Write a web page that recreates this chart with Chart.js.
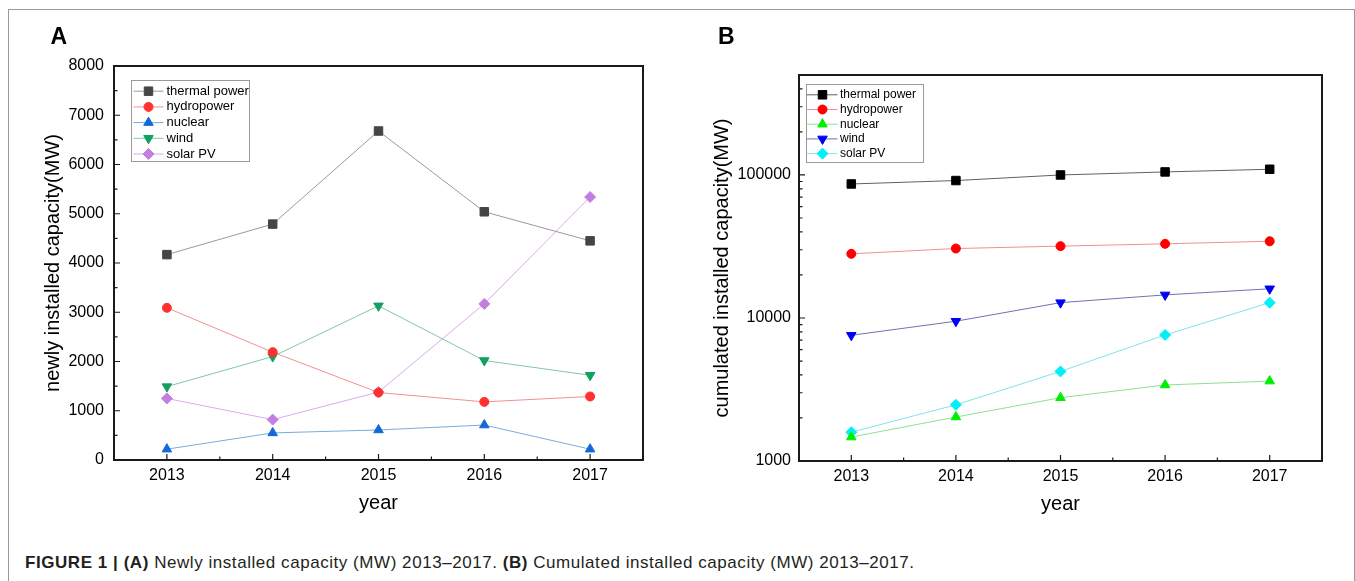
<!DOCTYPE html>
<html>
<head>
<meta charset="utf-8">
<script src="https://cdn.jsdelivr.net/npm/chart.js@4"></script>
<style>
  html, body { margin:0; padding:0; background:#fff; }
  body { width:1355px; height:581px; position:relative; overflow:hidden; font-family:'Liberation Sans', Arial, sans-serif; }
  #frame { position:absolute; left:8px; top:9px; width:1347px; height:700px; box-sizing:border-box; border:1px solid #9a9a9a; }
  #cA { position:absolute; left:0; top:0; }
  #cB { position:absolute; left:680px; top:0; }
  .panel { position:absolute; font-weight:bold; font-size:23px; line-height:30px; color:#000; }
  #caption { position:absolute; left:25px; top:552.5px; font-size:17px; line-height:20px; letter-spacing:0.55px; color:#231f20; white-space:nowrap; }
</style>
</head>
<body>
<div id="frame"></div>
<canvas id="cA" width="680" height="540"></canvas>
<canvas id="cB" width="675" height="540"></canvas>
<div class="panel" style="left:50.5px; top:21px;">A</div>
<div class="panel" style="left:718px; top:20.5px;">B</div>
<div id="caption"><b>FIGURE 1 | (A)</b> Newly installed capacity (MW) 2013–2017. <b>(B)</b> Cumulated installed capacity (MW) 2013–2017.</div>
<script>
// ---------- data ----------
const years = ['2013', '2014', '2015', '2016', '2017'];
const seriesNames = ['thermal power', 'hydropower', 'nuclear', 'wind', 'solar PV'];

// Panel A: newly installed capacity (MW)
const newThermal = [4170, 4790, 6680, 5040, 4450];
const newHydro   = [3090, 2190, 1370, 1180, 1290];
const newNuclear = [220, 550, 610, 710, 220];
const newWind    = [1490, 2100, 3130, 2020, 1720];
const newSolar   = [1250, 820, 1380, 3170, 5340];

// Panel B: cumulated installed capacity (MW)
const cumThermal = [86500, 91400, 100000, 105000, 109600];
const cumHydro   = [28100, 30600, 31800, 33000, 34400];
const cumNuclear = [1470, 2030, 2770, 3400, 3620];
const cumWind    = [7570, 9490, 12800, 14500, 16000];
const cumSolar   = [1590, 2470, 4230, 7610, 12800];

// Tick values
const ticksAMajor = [0, 1000, 2000, 3000, 4000, 5000, 6000, 7000, 8000];
const ticksAMinor = [500, 1500, 2500, 3500, 4500, 5500, 6500, 7500];
const ticksBMajor = [1000, 10000, 100000];
const ticksBMinor = [2000, 3000, 4000, 5000, 6000, 7000, 8000, 9000,
                     20000, 30000, 40000, 50000, 60000, 70000, 80000, 90000,
                     200000, 300000, 400000];

// ---------- helpers ----------
const FONT = "'Liberation Sans', Arial, sans-serif";
Chart.defaults.font.family = FONT;
Chart.defaults.color = '#000';

function mkDs(label, data, lineColor, markColor, style, radius, rot) {
  return {
    label, data,
    borderColor: lineColor, backgroundColor: markColor,
    pointBackgroundColor: markColor, pointBorderColor: markColor,
    pointBorderWidth: 1, pointStyle: style, pointRadius: radius,
    pointHoverRadius: radius, pointRotation: rot || 0,
    borderWidth: 1, tension: 0, fill: false
  };
}

const frameTicks = {
  id: 'frameTicks',
  beforeDatasetsDraw(chart, args, o) {
    const {ctx, chartArea: a} = chart;
    const x = chart.scales.x, y = chart.scales.y;
    ctx.save();
    ctx.strokeStyle = '#1a1a1a';
    ctx.lineWidth = 1.2;
    ctx.beginPath();
    const n = x.ticks.length;
    for (let i = 0; i < n; i++) {
      const px = x.getPixelForTick(i);
      ctx.moveTo(px, a.bottom); ctx.lineTo(px, a.bottom - o.major);
      if (i < n - 1) {
        const mx = (px + x.getPixelForTick(i + 1)) / 2;
        ctx.moveTo(mx, a.bottom); ctx.lineTo(mx, a.bottom - o.minor);
      }
    }
    o.yMajor.forEach(v => { const py = y.getPixelForValue(v); ctx.moveTo(a.left, py); ctx.lineTo(a.left + o.major, py); });
    o.yMinor.forEach(v => { const py = y.getPixelForValue(v); ctx.moveTo(a.left, py); ctx.lineTo(a.left + o.minor, py); });
    ctx.stroke();
    ctx.restore();
  },
  afterDatasetsDraw(chart) {
    const {ctx, chartArea: a} = chart;
    ctx.save();
    ctx.strokeStyle = '#1a1a1a';
    ctx.lineWidth = 2;
    ctx.strokeRect(a.left, a.top, a.right - a.left, a.bottom - a.top);
    ctx.restore();
  }
};

const boxLegend = {
  id: 'boxLegend',
  afterDatasetsDraw(chart, args, o) {
    const {ctx, chartArea: a} = chart;
    const bx = Math.round(a.left + o.dx) + 0.5, by = Math.round(a.top + o.dy) + 0.5;
    ctx.save();
    ctx.fillStyle = '#fff';
    ctx.fillRect(bx, by, o.w, o.h);
    ctx.strokeStyle = '#9a9a9a';
    ctx.lineWidth = 1;
    ctx.strokeRect(bx, by, o.w, o.h);
    ctx.font = o.fontSize + 'px ' + FONT;
    ctx.textBaseline = 'middle';
    ctx.textAlign = 'left';
    chart.data.datasets.forEach((ds, i) => {
      const cy = by + o.first + i * o.gap;
      ctx.strokeStyle = ds.borderColor;
      ctx.lineWidth = 1;
      ctx.beginPath();
      ctx.moveTo(bx + o.l0, cy); ctx.lineTo(bx + o.l1, cy);
      ctx.stroke();
      ctx.fillStyle = ds.pointBackgroundColor;
      ctx.strokeStyle = ds.pointBorderColor;
      Chart.helpers.drawPoint(ctx, {pointStyle: ds.pointStyle, radius: ds.pointRadius, rotation: ds.pointRotation, borderWidth: 1}, bx + o.mx, cy);
      ctx.fillStyle = '#000';
      ctx.fillText(ds.label, bx + o.tx, cy);
    });
    ctx.restore();
  }
};

function xScale(pad, h) {
  return {
    type: 'category', labels: years, offset: true,
    grid: {display: false, drawTicks: false}, border: {display: false},
    ticks: {padding: pad, font: {size: 16}, color: '#000', maxRotation: 0, autoSkip: false},
    title: {display: true, text: 'year', font: {size: 20}, color: '#000', padding: {top: 0, bottom: 0}},
    afterFit(s) { s.height = h; }
  };
}

// ---------- chart A ----------
new Chart(document.getElementById('cA'), {
  type: 'line',
  data: {
    labels: years,
    datasets: [
      mkDs(seriesNames[0], newThermal, '#9a9a9a', '#454545', 'rect', 6),
      mkDs(seriesNames[1], newHydro,   '#f09090', '#ff3030', 'circle', 4.5),
      mkDs(seriesNames[2], newNuclear, '#78ace0', '#1468d8', 'triangle', 5.5),
      mkDs(seriesNames[3], newWind,    '#80c8a4', '#12a060', 'triangle', 5.5, 180),
      mkDs(seriesNames[4], newSolar,   '#d8aaee', '#c47ee2', 'rectRot', 5.5)
    ]
  },
  options: {
    responsive: false, animation: false, events: [],
    layout: {padding: {left: 30, top: 66, right: 37, bottom: 24.5}},
    plugins: {
      legend: {display: false}, tooltip: {enabled: false},
      frameTicks: {major: 6, minor: 3.5, yMajor: ticksAMajor, yMinor: ticksAMinor},
      boxLegend: {dx: 17, dy: 14, w: 118, h: 81, first: 10.7, gap: 15.7, l0: 2, l1: 32, mx: 17, tx: 35, fontSize: 13}
    },
    scales: {
      x: xScale(6, 55.5),
      y: {
        type: 'linear', min: 0, max: 8000,
        grid: {display: false, drawTicks: false}, border: {display: false},
        ticks: {stepSize: 1000, padding: 10, font: {size: 16}, color: '#000', callback: v => String(v)},
        title: {display: true, text: 'newly installed capacity(MW)', font: {size: 20}, color: '#000', padding: {top: 11, bottom: 0}},
        afterFit(s) { s.width = 84; }
      }
    }
  },
  plugins: [frameTicks, boxLegend]
});

// ---------- chart B ----------
new Chart(document.getElementById('cB'), {
  type: 'line',
  data: {
    labels: years,
    datasets: [
      mkDs(seriesNames[0], cumThermal, '#606060', '#000000', 'rect', 6),
      mkDs(seriesNames[1], cumHydro,   '#ee9090', '#ff0000', 'circle', 4.5),
      mkDs(seriesNames[2], cumNuclear, '#90e090', '#00ee00', 'triangle', 5.5),
      mkDs(seriesNames[3], cumWind,    '#7070b8', '#0000f0', 'triangle', 5.5, 180),
      mkDs(seriesNames[4], cumSolar,   '#80e4ea', '#00f0f8', 'rectRot', 5.5)
    ]
  },
  options: {
    responsive: false, animation: false, events: [],
    layout: {padding: {left: 20, top: 75, right: 33, bottom: 23.5}},
    plugins: {
      legend: {display: false}, tooltip: {enabled: false},
      frameTicks: {major: 6, minor: 3.5, yMajor: ticksBMajor, yMinor: ticksBMinor},
      boxLegend: {dx: 7, dy: 8.7, w: 117, h: 78, first: 10.3, gap: 14.7, l0: 0, l1: 31, mx: 16, tx: 33.5, fontSize: 12}
    },
    scales: {
      x: xScale(6, 55.5),
      y: {
        type: 'logarithmic', min: 1000, max: 500000,
        grid: {display: false, drawTicks: false}, border: {display: false},
        ticks: {autoSkip: false, padding: 8, font: {size: 16}, color: '#000',
                callback: v => ticksBMajor.includes(v) ? String(v) : ''},
        title: {display: true, text: 'cumulated installed capacity(MW)', font: {size: 20}, color: '#000', padding: {top: 10, bottom: 0}},
        afterFit(s) { s.width = 99; }
      }
    }
  },
  plugins: [frameTicks, boxLegend]
});
</script>
</body>
</html>
